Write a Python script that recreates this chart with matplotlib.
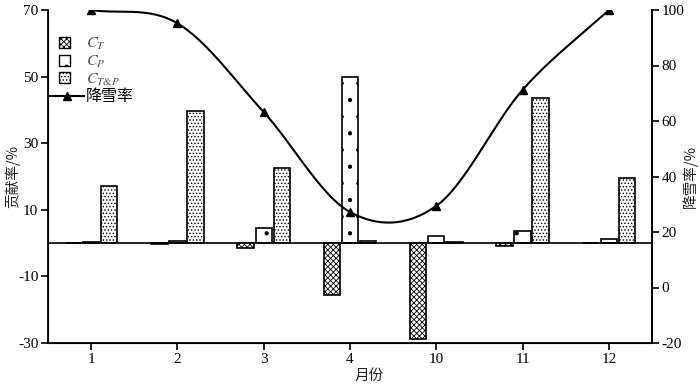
import numpy as np
import matplotlib
matplotlib.use("Agg")
import matplotlib.pyplot as plt
from matplotlib.patches import Rectangle
from matplotlib.lines import Line2D
from matplotlib.legend_handler import HandlerPatch

plt.rcParams['font.family'] = ['Liberation Serif', 'Noto Sans CJK SC']
plt.rcParams['mathtext.fontset'] = 'stix'
plt.rcParams['hatch.linewidth'] = 0.6
plt.rcParams['axes.unicode_minus'] = False

months = ['1', '2', '3', '4', '10', '11', '12']
c_t = [0.0, -0.2, -1.5, -15.5, -28.8, -0.8, 0.0]
c_p = [0.3, 0.5, 4.4, 50.0, 2.0, 3.6, 1.2]
c_tp = [17.1, 39.6, 22.5, 0.7, 0.3, 43.7, 19.5]
snow_rate = [100.0, 95.2, 63.2, 27.2, 29.4, 71.2, 100.0]

def catmull_rom(y, n_per=60):
    y = np.asarray(y, float)
    n = len(y)
    m = np.empty(n)
    m[0] = y[1] - y[0]
    m[-1] = y[-1] - y[-2]
    m[1:-1] = (y[2:] - y[:-2]) / 2
    xs_all, ys_all = [], []
    t = np.linspace(0, 1, n_per)
    h00 = 2*t**3 - 3*t**2 + 1
    h10 = t**3 - 2*t**2 + t
    h01 = -2*t**3 + 3*t**2
    h11 = t**3 - t**2
    for i in range(n - 1):
        xs_all.append(i + t)
        ys_all.append(h00*y[i] + h10*m[i] + h01*y[i+1] + h11*m[i+1])
    return np.concatenate(xs_all), np.concatenate(ys_all)

fig = plt.figure(figsize=(7, 3.85), dpi=100)
ax = fig.add_axes([48/700, 42/385, 604/700, 333/385])
x = np.arange(len(months))
w = 0.19
off = 0.21
ax.bar(x - off, c_t, w, facecolor='white', edgecolor='black', hatch='xxxxxx', linewidth=1.2, zorder=3)
ax.bar(x, c_p, w, facecolor='white', edgecolor='black', hatch='.', linewidth=1.2, zorder=3)
ax.bar(x + off, c_tp, w, facecolor='white', edgecolor='black', hatch='.....', linewidth=1.2, zorder=3)
ax.axhline(0, color='black', linewidth=1.2, zorder=4)

ax.set_xlim(-0.5, 6.5)
ax.set_ylim(-30, 70)
ax.set_yticks([70, 50, 30, 10, -10, -30])
ax.set_xticks(x)
ax.set_xticklabels(months)
ax.spines['top'].set_visible(False)
for s in ['left', 'bottom', 'right']:
    ax.spines[s].set_linewidth(1.3)
ax.tick_params(direction='out', width=1.2, length=5, labelsize=11, pad=2)

ax2 = ax.twinx()
cx, cy = catmull_rom(snow_rate)
ax2.plot(cx, cy, color='black', linewidth=1.5, zorder=5)
ax2.plot(x, snow_rate, linestyle='none', marker='^', color='black', markersize=6, zorder=6)
ax2.set_ylim(-20, 100)
ax2.set_yticks([100, 80, 60, 40, 20, 0, -20])
ax2.spines['top'].set_visible(False)
ax2.spines['right'].set_linewidth(1.3)
ax2.tick_params(direction='out', width=1.2, length=5, labelsize=11, pad=2)

fig.text(12/700, 1 - 176/385, '贡献率/%', rotation=90, ha='center', va='center',
         fontsize=10.5, family=['Noto Sans CJK SC', 'Liberation Serif'], color='#222222')
fig.text(690/700, 1 - 176/385, '降雪率/%', rotation=90, ha='center', va='center',
         fontsize=10.5, family=['Noto Sans CJK SC', 'Liberation Serif'], color='#222222')
fig.text(369/700, 1 - 376/385, '月份', ha='center', va='center',
         fontsize=10.5, family=['Noto Sans CJK SC'], color='#222222')

def small_square(legend, orig_handle, xdescent, ydescent, width, height, fontsize):
    s = 8
    return Rectangle((width - s - 10, (height - s) / 2 - ydescent), s, s)

h1 = Rectangle((0, 0), 1, 1, facecolor='white', edgecolor='black', hatch='xxxxxx', linewidth=1.0)
h2 = Rectangle((0, 0), 1, 1, facecolor='white', edgecolor='black', hatch='.', linewidth=1.0)
h3 = Rectangle((0, 0), 1, 1, facecolor='white', edgecolor='black', hatch='.....', linewidth=1.0)
h4 = Line2D([], [], color='black', marker='^', markersize=6, linewidth=1.5)
leg = ax2.legend([h1, h2, h3, h4], [r'$C_T$', r'$C_P$', r'$C_{T&P}$', '降雪率'],
                 loc='upper left', bbox_to_anchor=(-0.02, 0.965), frameon=False,
                 handlelength=2.1, handletextpad=0.15, labelspacing=0.1,
                 handler_map={Rectangle: HandlerPatch(patch_func=small_square)},
                 prop={'family': ['Liberation Serif', 'Noto Sans CJK SC'], 'size': 11.5})
for t in leg.get_texts()[:3]:
    t.set_color('#555555')

fig.savefig('out.png', dpi=100)
